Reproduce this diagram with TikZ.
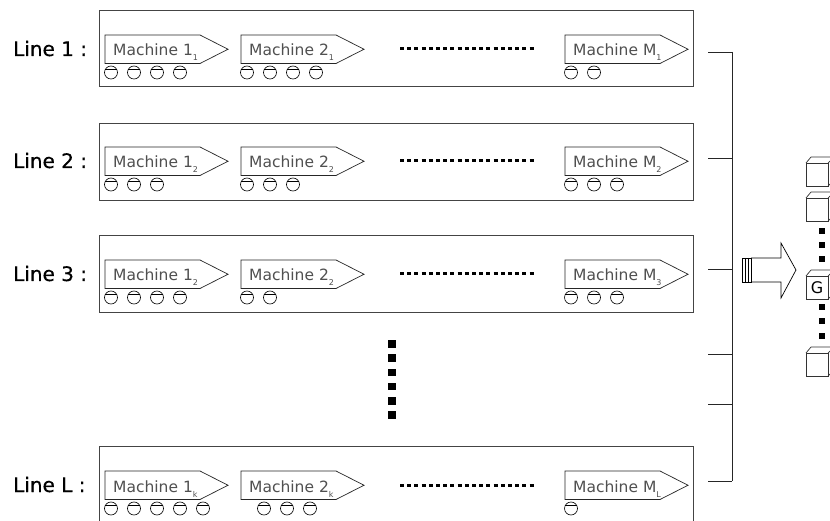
\documentclass[tikz,border=0pt]{standalone}
\usepackage{fontspec}
\setmainfont{DejaVu Sans}
\newfontfamily\labfont[FakeBold=0.5]{DejaVu Sans}
\definecolor{boxgray}{HTML}{444444}
\definecolor{txtgray}{HTML}{505050}
\tikzset{
  linebox/.style={draw=boxgray, line width=0.9pt},
  machbox/.style={draw=black!85, line width=0.7pt},
  wheel/.style={draw=black, line width=0.6pt},
  dotrow/.style={line width=3pt, dash pattern=on 4pt off 3.2pt},
  bus/.style={draw=black!85, line width=0.9pt},
  cubeline/.style={draw=black!80, line width=0.7pt},
  blk/.style={fill=black, inner sep=0pt, minimum size=7.5pt},
  blksmall/.style={fill=black, inner sep=0pt, minimum size=6pt},
  linelab/.style={anchor=base west, inner sep=0pt, font=\labfont\fontsize{20}{20}\selectfont},
  machlab/.style={anchor=base west, inner sep=0pt, text=txtgray, font=\fontsize{15.5}{15.5}\selectfont}
}
% #1 name, #2 x, #3 ytop, #4 text, #5 sub, #6 count, #7 first wheel centre x
\newcommand\mymach[7]{%
  \draw[machbox] (#2,#3) -- ++(95,0) -- ++(28,14.25) -- ++(-28,14.25) -- ++(-95,0) -- cycle;
  \node[machlab] (#1) at (#2+8,#3+21) {#4\raisebox{-5pt}{\fontsize{8}{8}\selectfont #5}};
  \foreach \k in {1,...,#6}{%
    \draw[wheel] (#7+23*\k-23,#3+37.5) circle (6.5pt);
    \draw[wheel] (#7+23*\k-23-5.6,#3+34.2) -- (#7+23*\k-23+5.6,#3+34.2);
  }%
}
% #1 name, #2 ytop of front face, #3 label
\newcommand\mycube[3]{%
  \draw[cubeline] (806,#2) rectangle (828,#2+23);
  \draw[cubeline] (806,#2) -- (811,#2-6) -- (834,#2-6) -- (828,#2);
  \draw[cubeline] (828,#2+23) -- (834,#2+17) -- (834,#2-6);
  \node[inner sep=0pt, font=\fontsize{16}{16}\selectfont] (#1) at (817,#2+11.5) {#3};
}
\begin{document}
\begin{tikzpicture}[x=1pt, y=-1pt]
\clip (0,0) rectangle (830,521);
\fill[white] (0,0) rectangle (830,521);

% line boxes
\draw[linebox] (99,10) rectangle (693,86.5);
\draw[linebox] (99,123) rectangle (693,200);
\draw[linebox] (99,235) rectangle (693,312);
\draw[linebox] (99,530) -- (99,446) -- (693,446) -- (693,530);

% labels
\node[linelab] (lab1) at (13,56) {Line 1 :};
\node[linelab] (lab2) at (13,168) {Line 2 :};
\node[linelab] (lab3) at (13,281) {Line 3 :};
\node[linelab] (labL) at (13,492) {Line L :};

% line 1
\mymach{m11}{105}{35}{Machine 1}{1}{4}{111}
\mymach{m12}{241}{35}{Machine 2}{1}{4}{247}
\mymach{m1M}{565}{35}{Machine M}{1}{2}{571}
\draw[dotrow] (400,49) -- (536,49);
% line 2
\mymach{m21}{105}{147}{Machine 1}{2}{3}{111}
\mymach{m22}{241}{147}{Machine 2}{2}{3}{247}
\mymach{m2M}{565}{147}{Machine M}{2}{3}{571}
\draw[dotrow] (400,161) -- (536,161);
% line 3
\mymach{m31}{105}{260}{Machine 1}{2}{4}{111}
\mymach{m32}{241}{260}{Machine 2}{2}{2}{247}
\mymach{m3M}{565}{260}{Machine M}{3}{3}{571}
\draw[dotrow] (400,274) -- (536,274);
% line L
\mymach{mL1}{105}{471}{Machine 1}{k}{5}{111}
\mymach{mL2}{241}{471}{Machine 2}{k}{3}{264}
\mymach{mLM}{565}{471}{Machine M}{L}{1}{571}
\draw[dotrow] (400,485) -- (536,485);

% vertical dots between line 3 and line L
\foreach \k in {0,...,5}{\node[blk] (vd\k) at (392,344+14.2*\k) {};}

% bus
\coordinate (busTop) at (732,52);
\coordinate (busBot) at (732,481);
\draw[bus] (busTop) -- (busBot);
\foreach \y [count=\i] in {52,158,269,354,404,481}{%
  \coordinate (s\i) at (708,\y);
  \draw[bus] (s\i) -- (s\i -| busTop);
}

% big arrow
\draw[line width=0.7pt] (751,258) -- (781,258) -- (781,243) -- (796,270) -- (781,298) -- (781,282) -- (751,282);
\draw[line width=0.7pt] (742,258) rectangle (751,282);
\draw[line width=0.7pt] (745.5,258) -- (745.5,282);
\draw[line width=0.7pt] (748.5,258) -- (748.5,282);

% cubes
\mycube{c1}{163}{}
\mycube{c2}{198}{}
\mycube{cG}{276}{G}
\mycube{cN}{353}{}
\foreach \y [count=\i] in {231,245,259,307,321,336}{\node[blksmall] (cd\i) at (822,\y) {};}
\end{tikzpicture}
\end{document}
